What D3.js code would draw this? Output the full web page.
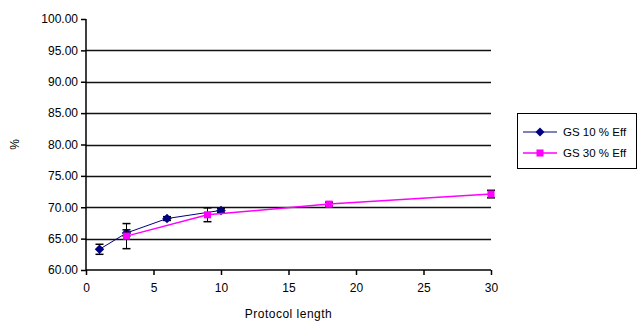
<!DOCTYPE html>
<html>
<head>
<meta charset="utf-8">
<script src="https://cdn.jsdelivr.net/npm/d3@7"></script>
<style>
  body { margin: 0; background: #fff; }
  text { font-family: Arial, "Liberation Sans", sans-serif; }
</style>
</head>
<body>
<div id="vis"></div>
<script>
// data
var seriesNames = ['GS 10 % Eff', 'GS 30 % Eff'];
var gs10Length = [1, 3, 6, 10];
var gs10Value = [63.3, 65.9, 68.2, 69.5];
var gs10Err = [0.8, 0.5, 0.3, 0.3];
var gs30Length = [3, 9, 18, 30];
var gs30Value = [65.4, 68.8, 70.5, 72.1];
var gs30Err = [2.0, 1.1, 0.3, 0.6];
var yTicks = [60, 65, 70, 75, 80, 85, 90, 95, 100];
var xTicks = [0, 5, 10, 15, 20, 25, 30];

var width = 640;
var height = 324;
var margin = {top: 19, left: 86, bottom: 54, right: 149};
var plotW = width - margin.left - margin.right;
var plotH = height - margin.top - margin.bottom;

var svg = d3.select('#vis').append('svg')
  .attr('width', width)
  .attr('height', height);

var g = svg.append('g')
  .attr('transform', 'translate(' + margin.left + ',' + margin.top + ')');

var x = d3.scaleLinear().domain([0, 30]).range([0, plotW]);
var y = d3.scaleLinear().domain([60, 100]).range([plotH, 0]);

// squat diamond like the spreadsheet marker
var diamond = { draw: function(ctx, size) {
  var r = Math.sqrt(size) / 2;
  ctx.moveTo(0, -r); ctx.lineTo(r, 0); ctx.lineTo(0, r); ctx.lineTo(-r, 0); ctx.closePath();
}};

// gridlines
g.selectAll('.grid')
  .data(yTicks.filter(function(d) { return d > 60 && d < 100; }))
  .enter().append('line')
  .attr('x1', 0).attr('x2', plotW)
  .attr('y1', function(d) { return Math.round(y(d)) + 0.5; })
  .attr('y2', function(d) { return Math.round(y(d)) + 0.5; })
  .attr('stroke', '#111')
  .attr('stroke-width', 1.4);

// axes
var yAxis = d3.axisLeft(y).tickValues(yTicks)
  .tickFormat(d3.format('.2f')).tickSize(5).tickPadding(3);
var xAxis = d3.axisBottom(x).tickValues(xTicks).tickSize(5).tickPadding(8);

var ya = g.append('g').call(yAxis);
var xa = g.append('g').attr('transform', 'translate(0,' + plotH + ')').call(xAxis);
[ya, xa].forEach(function(a) {
  a.select('.domain').attr('stroke', '#000').attr('stroke-width', 1.5);
  a.selectAll('.tick line').attr('stroke', '#000').attr('stroke-width', 1.5);
  a.selectAll('text').attr('fill', '#000').style('font-size', '12px');
});
ya.select('.domain').attr('d', 'M0,0V' + plotH);
xa.select('.domain').attr('d', 'M0,0H' + plotW);

// axis titles
svg.append('text')
  .attr('transform', 'translate(19,' + (margin.top + plotH / 2) + ') rotate(-90)')
  .attr('text-anchor', 'middle')
  .style('font-size', '12px')
  .text('%');

svg.append('text')
  .attr('x', margin.left + plotW / 2)
  .attr('y', 318)
  .attr('text-anchor', 'middle')
  .style('font-size', '12px')
  .style('letter-spacing', '0.5px')
  .text('Protocol length');

var line = d3.line()
  .x(function(d) { return x(d[0]); })
  .y(function(d) { return y(d[1]); });

function drawSeries(xs, vs, es, color, lw, shape, size) {
  var pts = xs.map(function(v, i) { return [v, vs[i], es[i]]; });
  // error bars
  var eb = g.append('g');
  pts.forEach(function(p) {
    var cx = x(p[0]);
    eb.append('line')
      .attr('x1', cx).attr('x2', cx)
      .attr('y1', y(p[1] - p[2])).attr('y2', y(p[1] + p[2]))
      .attr('stroke', '#000').attr('stroke-width', 1);
    [p[1] - p[2], p[1] + p[2]].forEach(function(v) {
      eb.append('line')
        .attr('x1', cx - 4).attr('x2', cx + 4)
        .attr('y1', y(v)).attr('y2', y(v))
        .attr('stroke', '#000').attr('stroke-width', 1.5);
    });
  });
  g.append('path')
    .datum(pts)
    .attr('fill', 'none')
    .attr('stroke', color)
    .attr('stroke-width', lw)
    .attr('d', line);
  g.selectAll(null)
    .data(pts)
    .enter().append('path')
    .attr('transform', function(d) { return 'translate(' + x(d[0]) + ',' + y(d[1]) + ')'; })
    .attr('d', d3.symbol().type(shape).size(size))
    .attr('fill', color);
}

drawSeries(gs10Length, gs10Value, gs10Err, '#000080', 1, diamond, 90);
drawSeries(gs30Length, gs30Value, gs30Err, '#ff00ff', 1.5, d3.symbolSquare, 50);

// legend
var leg = svg.append('g').attr('transform', 'translate(517,113)');
leg.append('rect')
  .attr('x', 0.5).attr('y', 0.5)
  .attr('width', 119).attr('height', 55)
  .attr('fill', '#fff')
  .attr('stroke', '#000')
  .attr('stroke-width', 1);

var legColors = ['#000080', '#ff00ff'];
var legShapes = [diamond, d3.symbolSquare];
seriesNames.forEach(function(name, i) {
  var ly = 19 + i * 21;
  leg.append('line')
    .attr('x1', 6).attr('x2', 40)
    .attr('y1', ly).attr('y2', ly)
    .attr('stroke', legColors[i])
    .attr('stroke-width', i === 0 ? 1 : 1.5);
  leg.append('path')
    .attr('transform', 'translate(23,' + ly + ')')
    .attr('d', d3.symbol().type(legShapes[i]).size(i === 0 ? 80 : 50))
    .attr('fill', legColors[i]);
  leg.append('text')
    .attr('x', 46).attr('y', ly + 4)
    .style('font-size', '11.5px')
    .text(name);
});
</script>
</body>
</html>
